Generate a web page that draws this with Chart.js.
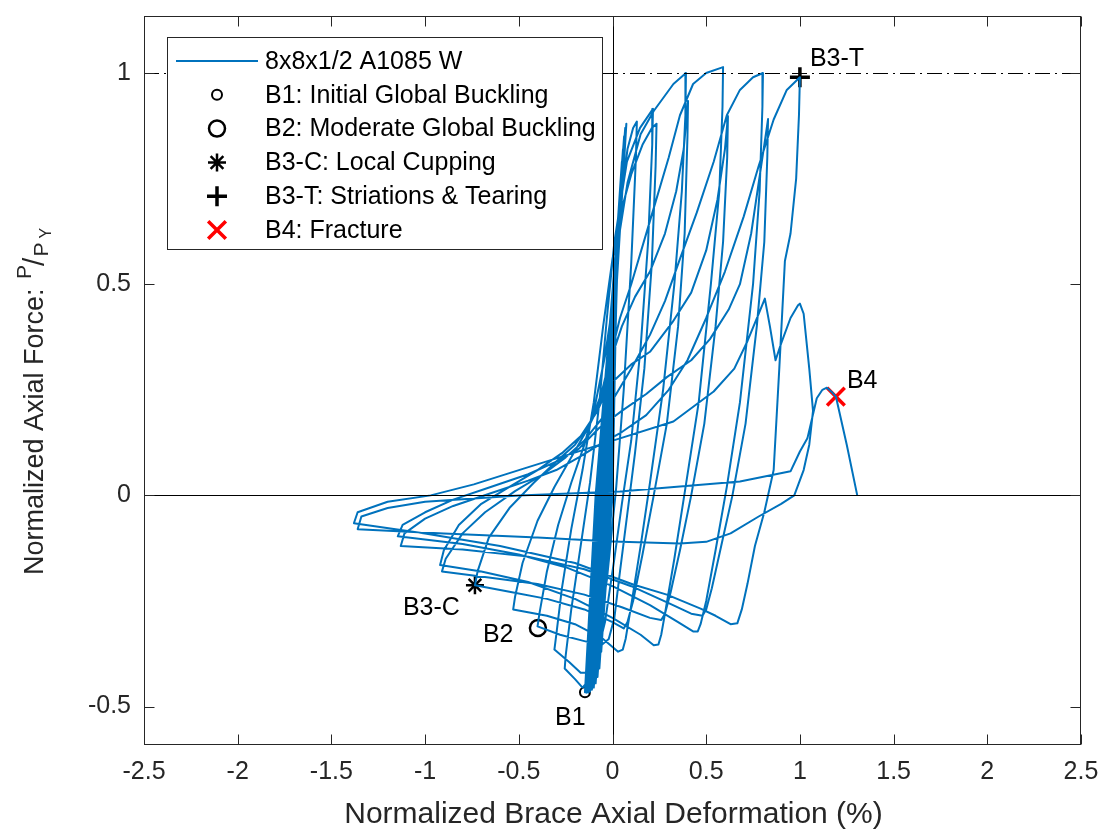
<!DOCTYPE html>
<html>
<head>
<meta charset="utf-8">
<script src="https://cdn.jsdelivr.net/npm/chart.js@4/dist/chart.umd.min.js"></script>
<style>
  html, body { margin: 0; padding: 0; background: #ffffff; }
  #wrap { width: 1103px; height: 830px; position: relative; }
</style>
</head>
<body>
<div id="wrap"><canvas id="chart" width="1103" height="830"></canvas></div>
<script>
// ---- Brace test record: normalized deformation (%) vs normalized axial force P/Py ----
const seriesLabel = '8x8x1/2 A1085 W';

// small elastic cycles up to initial global buckling
const elasticCycles = [
  [0,0],[0.010,0.28],[-0.035,0],[-0.050,-0.30],
  [0.000,0],[0.018,0.42],[-0.040,0],[-0.060,-0.37],
  [-0.005,0],[0.025,0.54],[-0.048,0],[-0.070,-0.41],
  [-0.010,0],[0.032,0.63],[-0.055,0],[-0.080,-0.43],
  [-0.015,0],[0.038,0.70],[-0.060,0],[-0.090,-0.445],
  [-0.020,0],[0.044,0.75],[-0.065,0],[-0.100,-0.455],
  [-0.025,0],[0.050,0.79],[-0.070,0],[-0.110,-0.46],
  [-0.030,0],[0.056,0.82],[-0.075,0],[-0.120,-0.465],
  [-0.035,0],[0.062,0.85],[-0.080,0],[-0.130,-0.467],
  [-0.040,0],[0.068,0.87],[-0.085,0],[-0.140,-0.467],
  [-0.045,0],[0.074,0.88],[-0.090,0],[-0.147,-0.466]
];

const loop01 = [
  [-0.14,-0.42],[-0.11,-0.25],[-0.075,-0.05],[-0.04,0.20],[0.00,0.45],[0.04,0.68],[0.08,0.82],[0.11,0.87],[0.13,0.885],
  [0.125,0.80],[0.10,0.55],[0.06,0.25],[0.02,0.02],[-0.03,-0.20],[-0.09,-0.37],[-0.13,-0.44],[-0.16,-0.455],[-0.20,-0.435],[-0.255,-0.41]
];
const loop02 = [
  [-0.25,-0.38],[-0.22,-0.27],[-0.17,-0.12],[-0.12,0.03],[-0.07,0.22],[-0.03,0.42],[0.01,0.60],[0.077,0.79],[0.147,0.87],[0.216,0.915],
  [0.212,0.83],[0.19,0.60],[0.15,0.35],[0.10,0.13],[0.05,-0.02],[0.01,-0.15],[-0.04,-0.30],[-0.09,-0.39],[-0.13,-0.42],[-0.17,-0.42],[-0.23,-0.395],[-0.31,-0.365]
];
const loop03 = [
  [-0.30,-0.33],[-0.27,-0.22],[-0.22,-0.08],[-0.16,0.06],[-0.10,0.22],[-0.05,0.40],[0.00,0.56],[0.05,0.68],[0.10,0.76],[0.16,0.83],[0.21,0.87],[0.235,0.88],
  [0.23,0.78],[0.21,0.55],[0.17,0.30],[0.12,0.10],[0.08,-0.04],[0.04,-0.18],[0.01,-0.29],[-0.02,-0.34],[-0.06,-0.355],[-0.15,-0.345],[-0.28,-0.33],[-0.40,-0.31]
];
const loop04 = [
  [-0.39,-0.28],[-0.35,-0.18],[-0.29,-0.07],[-0.22,0.03],[-0.15,0.12],[-0.09,0.22],[-0.04,0.33],[0.00,0.45],[0.03,0.60],[0.08,0.74],[0.15,0.855],[0.22,0.91],[0.325,0.974],[0.392,1.00],
  [0.389,0.90],[0.37,0.72],[0.33,0.50],[0.27,0.25],[0.20,0.03],[0.15,-0.12],[0.10,-0.26],[0.07,-0.34],[0.055,-0.365],[0.03,-0.37],[-0.05,-0.34],[-0.20,-0.305],[-0.35,-0.285],[-0.53,-0.27]
];
const loop05 = [
  [-0.52,-0.24],[-0.48,-0.16],[-0.40,-0.06],[-0.31,0.02],[-0.22,0.09],[-0.13,0.16],[-0.064,0.22],[-0.01,0.32],[0.05,0.40],[0.12,0.47],[0.20,0.53],[0.28,0.62],[0.34,0.72],[0.38,0.82],[0.403,0.934],
  [0.40,0.85],[0.385,0.62],[0.35,0.40],[0.29,0.17],[0.22,0.00],[0.16,-0.14],[0.11,-0.25],[0.08,-0.30],[0.06,-0.315],[0.00,-0.30],[-0.15,-0.27],[-0.35,-0.245],[-0.55,-0.228],[-0.734,-0.213]
];
const loop06 = [
  [-0.72,-0.18],[-0.66,-0.10],[-0.55,-0.03],[-0.42,0.03],[-0.30,0.08],[-0.20,0.12],[-0.12,0.17],[-0.06,0.24],[-0.01,0.33],[0.04,0.42],[0.10,0.50],[0.20,0.65],[0.30,0.80],[0.36,0.90],[0.43,0.974],[0.50,1.00],[0.59,1.014],
  [0.587,0.92],[0.57,0.72],[0.525,0.50],[0.46,0.22],[0.39,0.02],[0.33,-0.15],[0.28,-0.28],[0.26,-0.33],[0.245,-0.353],[0.22,-0.355],[0.15,-0.33],[0.00,-0.29],[-0.20,-0.245],[-0.45,-0.205],[-0.70,-0.18],[-0.92,-0.165]
];
const loop07 = [
  [-0.90,-0.13],[-0.82,-0.07],[-0.70,-0.02],[-0.55,0.02],[-0.40,0.06],[-0.27,0.10],[-0.17,0.14],[-0.08,0.20],[-0.02,0.26],[0.10,0.31],[0.20,0.34],[0.32,0.41],[0.42,0.48],[0.50,0.58],[0.56,0.70],[0.60,0.82],[0.616,0.898],
  [0.612,0.80],[0.59,0.60],[0.55,0.40],[0.49,0.17],[0.42,0.00],[0.36,-0.13],[0.31,-0.23],[0.28,-0.28],[0.26,-0.295],[0.20,-0.29],[0.05,-0.265],[-0.15,-0.235],[-0.40,-0.21],[-0.65,-0.195],[-0.91,-0.18]
];
const loop08 = [
  [-0.89,-0.15],[-0.80,-0.09],[-0.68,-0.04],[-0.52,0.01],[-0.37,0.05],[-0.25,0.09],[-0.15,0.13],[-0.06,0.18],[0.02,0.24],[0.10,0.30],[0.20,0.38],[0.28,0.46],[0.36,0.56],[0.45,0.67],[0.54,0.79],[0.61,0.90],[0.68,0.96],[0.75,0.99],[0.803,1.00],
  [0.80,0.92],[0.785,0.72],[0.75,0.50],[0.68,0.22],[0.61,0.02],[0.55,-0.13],[0.50,-0.25],[0.47,-0.305],[0.455,-0.322],[0.43,-0.322],[0.35,-0.30],[0.20,-0.26],[0.00,-0.215],[-0.25,-0.17],[-0.50,-0.14],[-0.80,-0.115],[-1.146,-0.097]
];
const loop09 = [
  [-1.12,-0.07],[-1.00,-0.04],[-0.85,-0.01],[-0.65,0.02],[-0.45,0.05],[-0.30,0.08],[-0.18,0.11],[-0.07,0.16],[0.05,0.20],[0.18,0.24],[0.29,0.28],[0.42,0.32],[0.52,0.37],[0.62,0.44],[0.68,0.50],[0.74,0.62],[0.78,0.74],[0.81,0.83],[0.83,0.891],
  [0.826,0.80],[0.81,0.60],[0.77,0.40],[0.71,0.17],[0.64,0.00],[0.58,-0.12],[0.53,-0.22],[0.50,-0.27],[0.48,-0.285],[0.42,-0.28],[0.30,-0.255],[0.10,-0.215],[-0.15,-0.175],[-0.45,-0.145],[-0.80,-0.128],[-1.13,-0.12]
];
const loop10 = [
  [-1.11,-0.09],[-1.00,-0.055],[-0.85,-0.025],[-0.65,0.005],[-0.45,0.035],[-0.30,0.06],[-0.18,0.09],[-0.07,0.12],[0.05,0.15],[0.18,0.19],[0.30,0.25],[0.40,0.32],[0.50,0.42],[0.60,0.53],[0.70,0.66],[0.78,0.78],[0.86,0.89],[0.93,0.96],[1.00,0.99],
  [0.995,0.90],[0.98,0.75],[0.95,0.62],[0.92,0.555],[0.89,0.30],[0.86,0.06],[0.81,-0.04],[0.76,-0.12],[0.72,-0.21],[0.69,-0.27],[0.666,-0.303],[0.63,-0.305],[0.55,-0.285],[0.47,-0.268],[0.29,-0.235],[0.11,-0.211],[-0.20,-0.16],[-0.60,-0.12],[-1.00,-0.09],[-1.38,-0.066]
];
const loop11 = [
  [-1.36,-0.04],[-1.20,-0.015],[-0.97,0.00],[-0.74,0.026],[-0.47,0.064],[-0.21,0.10],[0.04,0.135],[0.325,0.175],[0.54,0.246],[0.65,0.30],[0.72,0.365],[0.78,0.43],[0.813,0.466],
  [0.84,0.40],[0.87,0.32],[0.90,0.36],[0.95,0.42],[0.99,0.45],[1.00,0.454],[1.02,0.43],[1.05,0.30],[1.07,0.20],
  [1.05,0.12],[1.02,0.06],[0.97,0.00],[0.90,-0.02],[0.78,-0.05],[0.63,-0.09],[0.50,-0.11],[0.36,-0.114],[0.00,-0.109],[-0.40,-0.10],[-0.90,-0.09],[-1.36,-0.08]
];
const finalPull = [
  [-1.34,-0.05],[-1.20,-0.03],[-1.00,-0.015],[-0.50,0.00],[0.04,0.009],[0.68,0.033],[0.95,0.057],[1.00,0.104],[1.04,0.135],[1.09,0.23],[1.12,0.25],[1.144,0.255],[1.17,0.245],[1.192,0.234],[1.25,0.12],[1.306,0.00]
];

// damage states marked on the record
const markerTags   = ['B1', 'B2', 'B3-C', 'B3-T', 'B4'];
const markerLabels = ['B1: Initial Global Buckling', 'B2: Moderate Global Buckling', 'B3-C: Local Cupping', 'B3-T: Striations & Tearing', 'B4: Fracture'];
const markerDef    = [-0.147, -0.398, -0.734, 1.000, 1.192];
const markerForce  = [-0.466, -0.314, -0.213, 0.990, 0.234];

// axis ticks and reference levels
const xTickValues = [-2.5, -2, -1.5, -1, -0.5, 0, 0.5, 1, 1.5, 2, 2.5];
const yTickValues = [-0.5, 0, 0.5, 1];
const yieldLevel = 1;

// ---------------- styling ----------------
const FONT = "'Liberation Sans', Arial, Helvetica, sans-serif";
const BLUE = '#0072BD';
const AXIS = '#262626';
const markerStyles = [
  { pointStyle: 'circle',   radius: 5,    borderWidth: 2,   color: '#000000', dx: -30, dy: 33 },
  { pointStyle: 'circle',   radius: 8,    borderWidth: 2.5, color: '#000000', dx: -55, dy: 14 },
  { pointStyle: 'star',     radius: 9,    borderWidth: 2.5, color: '#000000', dx: -72, dy: 30 },
  { pointStyle: 'cross',    radius: 10,   borderWidth: 3.5, color: '#000000', dx: 10,  dy: -11 },
  { pointStyle: 'crossRot', radius: 12.5, borderWidth: 3.5, color: '#FF0000', dx: 11,  dy: -9 }
];

const hysteresis = [].concat(elasticCycles, loop01, loop02, loop03, loop04, loop05, loop06,
  loop07, loop08, loop09, loop10, loop11, finalPull).map(([x, y]) => ({ x, y }));

const datasets = [{
  label: seriesLabel,
  data: hysteresis,
  showLine: true,
  borderColor: BLUE,
  borderWidth: 2,
  pointRadius: 0,
  tension: 0,
  borderJoinStyle: 'round'
}];
markerLabels.forEach((lab, i) => {
  const s = markerStyles[i];
  datasets.push({
    label: lab,
    data: [{ x: markerDef[i], y: markerForce[i] }],
    showLine: false,
    pointStyle: s.pointStyle,
    pointRadius: s.radius,
    pointBorderWidth: s.borderWidth,
    pointBorderColor: s.color,
    pointBackgroundColor: 'rgba(0,0,0,0)',
    borderColor: s.color,
    backgroundColor: 'rgba(0,0,0,0)'
  });
});

// zero axes and yield level, drawn right over the hysteresis line
const referenceLines = {
  id: 'referenceLines',
  afterDatasetDraw(chart, args) {
    if (args.index !== 0) return;
    const { ctx, chartArea: a, scales: { x, y } } = chart;
    ctx.save();
    ctx.beginPath();
    ctx.rect(a.left, a.top, a.right - a.left, a.bottom - a.top);
    ctx.clip();
    ctx.strokeStyle = '#000000';
    ctx.lineWidth = 1;
    const y0 = Math.round(y.getPixelForValue(0)) + 0.5;
    const x0 = Math.round(x.getPixelForValue(0)) + 0.5;
    ctx.beginPath();
    ctx.moveTo(a.left, y0); ctx.lineTo(a.right, y0);
    ctx.moveTo(x0, a.top); ctx.lineTo(x0, a.bottom);
    ctx.stroke();
    const yY = Math.round(y.getPixelForValue(yieldLevel)) + 0.5;
    ctx.setLineDash([15, 5, 2, 5]);
    ctx.beginPath();
    ctx.moveTo(a.left, yY); ctx.lineTo(a.right, yY);
    ctx.stroke();
    ctx.restore();
  }
};

// box, inward ticks, axis titles, marker tags and legend
const decorations = {
  id: 'decorations',
  afterDraw(chart) {
    const { ctx, chartArea: a, scales: { x, y } } = chart;
    ctx.save();
    ctx.strokeStyle = AXIS;
    ctx.lineWidth = 1;
    const L = Math.round(a.left) + 0.5, R = Math.round(a.right) - 0.5;
    const T = Math.round(a.top) + 0.5, B = Math.round(a.bottom) - 0.5;
    ctx.strokeRect(L, T, R - L, B - T);
    ctx.beginPath();
    xTickValues.forEach(v => {
      const px = Math.round(x.getPixelForValue(v)) + 0.5;
      ctx.moveTo(px, B); ctx.lineTo(px, B - 10);
      ctx.moveTo(px, T); ctx.lineTo(px, T + 10);
    });
    yTickValues.forEach(v => {
      const py = Math.round(y.getPixelForValue(v)) + 0.5;
      ctx.moveTo(L, py); ctx.lineTo(L + 10, py);
      ctx.moveTo(R, py); ctx.lineTo(R - 10, py);
    });
    ctx.stroke();

    // marker tags
    ctx.fillStyle = '#000000';
    ctx.font = '25px ' + FONT;
    ctx.textAlign = 'left';
    ctx.textBaseline = 'alphabetic';
    markerTags.forEach((t, i) => {
      const px = x.getPixelForValue(markerDef[i]);
      const py = y.getPixelForValue(markerForce[i]);
      ctx.fillText(t, px + markerStyles[i].dx, py + markerStyles[i].dy);
    });

    // x title
    ctx.fillStyle = AXIS;
    ctx.font = '30px ' + FONT;
    ctx.textAlign = 'center';
    ctx.fillText('Normalized Brace Axial Deformation (%)', (a.left + a.right) / 2 + 1, 823);

    // y title with P/P_Y fraction
    ctx.save();
    ctx.translate(43, 575);
    ctx.rotate(-Math.PI / 2);
    ctx.textAlign = 'left';
    ctx.font = '27px ' + FONT;
    const main = 'Normalized Axial Force: ';
    ctx.fillText(main, 0, 0);
    let cx = ctx.measureText(main).width + 2;
    ctx.font = '21px ' + FONT;
    ctx.fillText('P', cx, -12);
    cx += ctx.measureText('P').width;
    ctx.font = '30px ' + FONT;
    ctx.fillText('/', cx - 1, 1);
    cx += ctx.measureText('/').width;
    ctx.font = '21px ' + FONT;
    ctx.fillText('P', cx, 5);
    cx += ctx.measureText('P').width + 4;
    ctx.font = '16px ' + FONT;
    ctx.fillText('Y', cx, 8);
    ctx.restore();

    // legend
    const lx = 167.5, ly = 37.5, lw = 435, lh = 212;
    ctx.fillStyle = '#ffffff';
    ctx.fillRect(lx, ly, lw, lh);
    ctx.strokeStyle = AXIS;
    ctx.lineWidth = 1;
    ctx.strokeRect(lx, ly, lw, lh);
    const rowY = i => 61 + i * 33.8;
    ctx.strokeStyle = BLUE;
    ctx.lineWidth = 2;
    ctx.beginPath();
    ctx.moveTo(176, rowY(0)); ctx.lineTo(258, rowY(0));
    ctx.stroke();
    markerStyles.forEach((s, i) => {
      ctx.strokeStyle = s.color;
      ctx.fillStyle = 'rgba(0,0,0,0)';
      ctx.lineWidth = s.borderWidth;
      Chart.helpers.drawPoint(ctx, { pointStyle: s.pointStyle, radius: s.radius, borderWidth: s.borderWidth, rotation: 0 }, 217, rowY(i + 1));
    });
    ctx.fillStyle = '#000000';
    ctx.font = '25px ' + FONT;
    ctx.textAlign = 'left';
    ctx.textBaseline = 'middle';
    [seriesLabel].concat(markerLabels).forEach((t, i) => ctx.fillText(t, 265, rowY(i) + 1));
    ctx.restore();
  }
};

const tickText = v => String(Math.round(v * 10) / 10);

new Chart(document.getElementById('chart'), {
  type: 'scatter',
  data: { datasets },
  options: {
    responsive: false,
    devicePixelRatio: 1,
    animation: false,
    layout: { padding: { left: 0, top: 15, right: 22, bottom: 0 } },
    plugins: { legend: { display: false }, tooltip: { enabled: false } },
    scales: {
      x: {
        type: 'linear', min: -2.5, max: 2.5,
        grid: { display: false, drawTicks: false }, border: { display: false },
        afterBuildTicks: s => { s.ticks = xTickValues.map(v => ({ value: v })); },
        afterFit: s => { s.height = 85; s.paddingLeft = 0; s.paddingRight = 0; },
        ticks: { font: { family: FONT, size: 25 }, color: AXIS, padding: 12.5, maxRotation: 0, autoSkip: false, callback: tickText }
      },
      y: {
        type: 'linear', min: -0.591, max: 1.135,
        grid: { display: false, drawTicks: false }, border: { display: false },
        afterBuildTicks: s => { s.ticks = yTickValues.map(v => ({ value: v })); },
        afterFit: s => { s.width = 144; s.paddingTop = 0; s.paddingBottom = 0; },
        ticks: { font: { family: FONT, size: 25 }, color: AXIS, padding: 13, autoSkip: false, callback: tickText }
      }
    }
  },
  plugins: [referenceLines, decorations]
});
</script>
</body>
</html>
